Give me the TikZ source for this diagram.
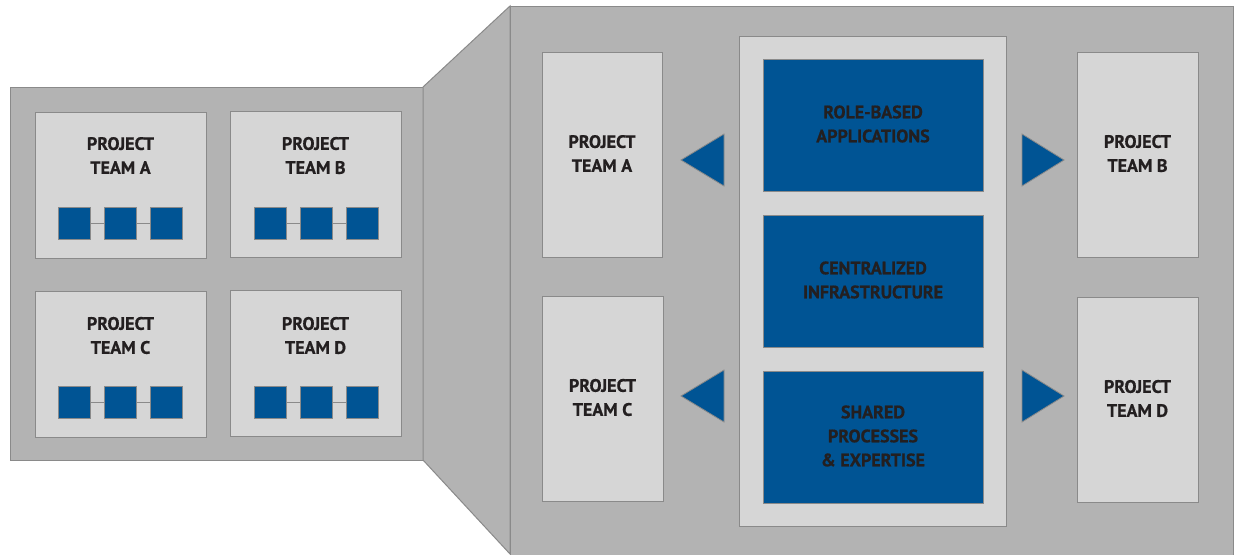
\documentclass[tikz,border=0pt]{standalone}
\usepackage{fontspec}
\setmainfont{PT Sans}[BoldFeatures={FakeBold=0.7}]
\definecolor{panelgray}{HTML}{B3B3B3}
\definecolor{boxfill}{HTML}{D6D6D6}
\definecolor{edgegray}{HTML}{8A8A8A}
\definecolor{teamblue}{HTML}{005494}
\definecolor{ink}{HTML}{231F20}
\begin{document}
\begin{tikzpicture}[x=1pt,y=-1pt,
  panelst/.style={fill=panelgray,draw=edgegray,line width=1pt,line join=miter},
  box/.style={rectangle,fill=boxfill,draw=edgegray,line width=1pt,inner sep=0pt,outer sep=0pt,anchor=north west},
  bluebox/.style={rectangle,fill=teamblue,draw=edgegray,line width=0.8pt,inner sep=0pt,outer sep=0pt,anchor=north west},
  sq/.style={rectangle,fill=teamblue,draw=edgegray,line width=0.8pt,minimum width=32pt,minimum height=32pt,inner sep=0pt,outer sep=0pt},
  link/.style={draw=edgegray,line width=0.8pt},
  lbl/.style={font=\bfseries\fontsize{18}{24}\selectfont,text=ink,align=center,inner sep=0pt},
  tri/.style={fill=teamblue,draw=edgegray,line width=0.8pt,line join=miter}]
\useasboundingbox (0,0) rectangle (1236,554);
\clip (0,0) rectangle (1236,554);
% panels
\draw[panelst] (10,87) rectangle (423,460);
\draw[panelst] (423,87) -- (510,6) -- (510,554) -- (423,460) -- cycle;
\draw[panelst] (510,6) rectangle (1233,570);
% left panel team boxes
\node[box,minimum width=171pt,minimum height=146pt] (lA) at (35,112) {};
\node[box,minimum width=171pt,minimum height=146pt] (lB) at (230,111) {};
\node[box,minimum width=171pt,minimum height=146pt] (lC) at (35,291) {};
\node[box,minimum width=171pt,minimum height=146pt] (lD) at (230,290) {};
\node[lbl] (tA) at (120.5,155.5) {PROJECT\\TEAM A};
\node[lbl] (tB) at (315.5,155.5) {PROJECT\\TEAM B};
\node[lbl] (tC) at (120.5,335.5) {PROJECT\\TEAM C};
\node[lbl] (tD) at (315.5,335.5) {PROJECT\\TEAM D};
% small squares
\foreach \n/\x/\y in {A/74/223,B/270/223,C/74/402,D/270/402}{
  \node[sq] (\n1) at (\x,\y) {};
  \node[sq] (\n2) at (\x+46,\y) {};
  \node[sq] (\n3) at (\x+92,\y) {};
  \draw[link] (\n1) -- (\n2);
  \draw[link] (\n2) -- (\n3);
}
% right panel
\node[box,minimum width=267pt,minimum height=490pt] (hub) at (739,36) {};
\node[bluebox,minimum width=220pt,minimum height=132pt] (roles) at (763,59) {};
\node[bluebox,minimum width=220pt,minimum height=132pt] (infra) at (763,215) {};
\node[bluebox,minimum width=220pt,minimum height=132pt] (shared) at (763,371) {};
\node[lbl] at ([yshift=1pt]roles.center) {ROLE-BASED\\APPLICATIONS};
\node[lbl] at ([yshift=1pt]infra.center) {CENTRALIZED\\INFRASTRUCTURE};
\node[lbl] at ([yshift=1pt]shared.center) {SHARED\\PROCESSES\\\& EXPERTISE};
\node[box,minimum width=120pt,minimum height=205pt] (rA) at (542,52) {};
\node[box,minimum width=121pt,minimum height=205pt] (rB) at (1077,52) {};
\node[box,minimum width=121pt,minimum height=205pt] (rC) at (542,296) {};
\node[box,minimum width=121pt,minimum height=205pt] (rD) at (1077,297) {};
\node[lbl] at ([yshift=1pt]rA.center) {PROJECT\\TEAM A};
\node[lbl] at ([yshift=1pt]rB.center) {PROJECT\\TEAM B};
\node[lbl] at ([yshift=1pt]rC.center) {PROJECT\\TEAM C};
\node[lbl] at ([yshift=1pt]rD.center) {PROJECT\\TEAM D};
% triangles
\draw[tri] (724,134) -- (681,160) -- (724,186) -- cycle;
\draw[tri] (1022,134) -- (1064,160) -- (1022,186) -- cycle;
\draw[tri] (724,370) -- (681,396) -- (724,422) -- cycle;
\draw[tri] (1022,370) -- (1064,396) -- (1022,422) -- cycle;
\end{tikzpicture}
\end{document}
